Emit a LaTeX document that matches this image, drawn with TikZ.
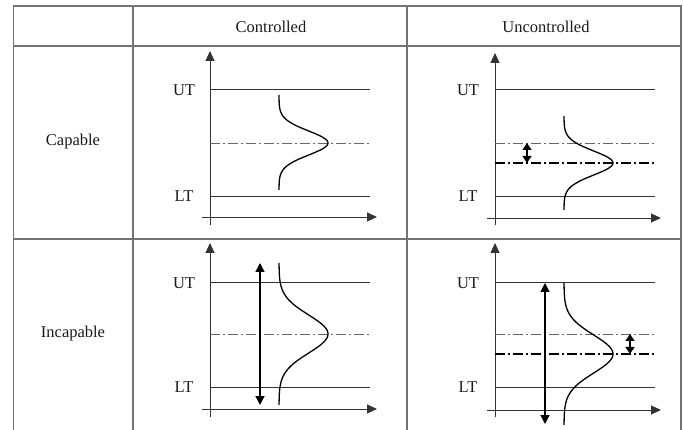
\documentclass[tikz,border=0pt]{standalone}
\usepackage{fontspec}
\setmainfont{Liberation Serif}
\usetikzlibrary{arrows.meta}
\begin{document}
\begin{tikzpicture}[x=1pt,y=-1pt,
  grid/.style={draw=black!55,line width=1.3pt},
  axis/.style={draw=black!80,line width=0.9pt,-{Triangle[length=10pt,width=9pt]}},
  tol/.style={draw=black!80,line width=0.9pt},
  meanA/.style={draw=black!60,line width=0.9pt,dash pattern=on 10pt off 3pt on 2pt off 3pt},
  meanB/.style={draw=black,line width=1.4pt,dash pattern=on 10pt off 3pt on 2pt off 3pt},
  curve/.style={draw=black,line width=1.3pt},
  spreadarrow/.style={draw=black,line width=1.3pt,{Triangle[length=9pt,width=9pt]}-{Triangle[length=9pt,width=9pt]}},
  driftarrow/.style={draw=black,line width=1.3pt,{Triangle[length=7pt,width=9pt]}-{Triangle[length=7pt,width=9pt]}},
  lbl/.style={font=\fontsize{16.5}{19}\selectfont,text=black!90,inner sep=0pt}]
\useasboundingbox (0,0) rectangle (683,430);
% table
\draw[grid] (13.5,432) -- (13.5,6) -- (681,6) -- (681,432);
\draw[grid] (13.5,46) -- (681,46);
\draw[grid] (13.5,239) -- (681,239);
\draw[grid] (133,6) -- (133,432);
\draw[grid] (407,6) -- (407,432);
% headers
\node[lbl] (hc) at (271,27) {Controlled};
\node[lbl] (hu) at (546,27) {Uncontrolled};
\node[lbl] (rc) at (73,142) {Capable};
\node[lbl] (ri) at (73,334) {Incapable};
% ---- panel 1: capable / controlled
\coordinate (a1b) at (210,225); \coordinate (a1t) at (210,51);
\coordinate (x1l) at (202,217); \coordinate (x1r) at (377,217);
\draw[axis] (a1b) -- (a1t);
\draw[axis] (x1l) -- (x1r);
\node[lbl] (ut1) at (184,90) {UT};
\node[lbl] (lt1) at (184,196) {LT};
\draw[tol] (210,89) -- (370,89);
\draw[tol] (210,196) -- (370,196);
\draw[meanA] (210,143) -- (370,143);
\draw[curve] plot[domain=-48:47,samples=80,smooth] ({279+49*exp(-(\x)^2/288)},{143+\x});
% ---- panel 2: capable / uncontrolled
\coordinate (a2b) at (495,225); \coordinate (a2t) at (495,53);
\coordinate (x2l) at (487,218); \coordinate (x2r) at (661,218);
\draw[axis] (a2b) -- (a2t);
\draw[axis] (x2l) -- (x2r);
\node[lbl] (ut2) at (468,90) {UT};
\node[lbl] (lt2) at (468,196) {LT};
\draw[tol] (495,89) -- (655,89);
\draw[tol] (495,196) -- (655,196);
\draw[meanA] (495,143) -- (655,143);
\draw[meanB] (495,163) -- (655,163);
\draw[curve] plot[domain=-47:47,samples=80,smooth] ({564+49*exp(-(\x)^2/288)},{163+\x});
\coordinate (s2t) at (527,143); \coordinate (s2b) at (527,163);
\draw[driftarrow] (s2t) -- (s2b);
% ---- panel 3: incapable / controlled
\coordinate (a3b) at (210,417); \coordinate (a3t) at (210,243);
\coordinate (x3l) at (202,409); \coordinate (x3r) at (377,409);
\draw[axis] (a3b) -- (a3t);
\draw[axis] (x3l) -- (x3r);
\node[lbl] (ut3) at (184,283) {UT};
\node[lbl] (lt3) at (184,387) {LT};
\draw[tol] (210,282) -- (370,282);
\draw[tol] (210,387) -- (370,387);
\draw[meanA] (210,334) -- (370,334);
\draw[curve] plot[domain=-71:71,samples=100,smooth] ({279+49*exp(-(\x)^2/722)},{334+\x});
\coordinate (r3t) at (260,263); \coordinate (r3b) at (260,405);
\draw[spreadarrow] (r3t) -- (r3b);
% ---- panel 4: incapable / uncontrolled
\coordinate (a4b) at (495,417); \coordinate (a4t) at (495,243);
\coordinate (x4l) at (487,410); \coordinate (x4r) at (661,410);
\draw[axis] (a4b) -- (a4t);
\draw[axis] (x4l) -- (x4r);
\node[lbl] (ut4) at (468,283) {UT};
\node[lbl] (lt4) at (468,387) {LT};
\draw[tol] (495,282) -- (655,282);
\draw[tol] (495,387) -- (655,387);
\draw[meanA] (495,334) -- (655,334);
\draw[meanB] (495,354) -- (655,354);
\draw[curve] plot[domain=-71:71,samples=100,smooth] ({564+49*exp(-(\x)^2/722)},{354+\x});
\coordinate (r4t) at (545,283); \coordinate (r4b) at (545,424);
\draw[spreadarrow] (r4t) -- (r4b);
\coordinate (s4t) at (630,334); \coordinate (s4b) at (630,354);
\draw[driftarrow] (s4t) -- (s4b);
\end{tikzpicture}
\end{document}
